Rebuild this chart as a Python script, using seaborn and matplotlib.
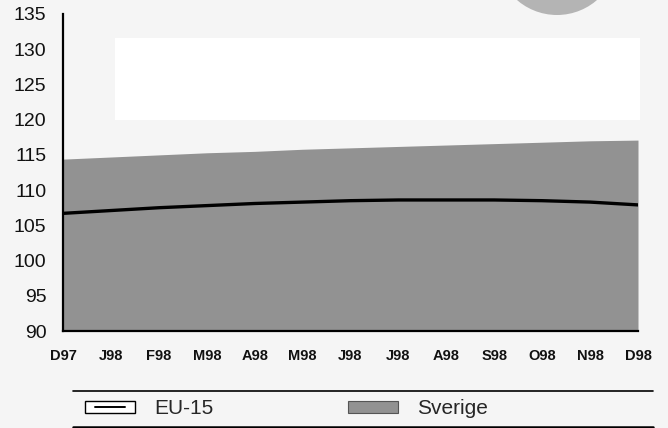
import matplotlib
matplotlib.use("Agg")
import matplotlib.pyplot as plt
import seaborn as sns
import pandas as pd
import numpy as np
from matplotlib.lines import Line2D
from matplotlib.patches import Rectangle, Ellipse
from matplotlib.legend_handler import HandlerBase

months = ["D97", "J98", "F98", "M98", "A98", "M98", "J98", "J98", "A98", "S98", "O98", "N98", "D98"]
eu15 = [106.7, 107.1, 107.5, 107.8, 108.1, 108.3, 108.5, 108.6, 108.6, 108.6, 108.5, 108.3, 107.9]
sverige = [114.4, 114.7, 115.0, 115.3, 115.5, 115.8, 116.0, 116.2, 116.4, 116.6, 116.8, 117.0, 117.1]
yticks = [90, 95, 100, 105, 110, 115, 120, 125, 130, 135]

sns.set_theme(style="white")
plt.rcParams['font.family'] = ['Liberation Sans', 'DejaVu Sans']

df = pd.DataFrame({"idx": np.arange(len(months)), "month": months,
                   "EU-15": eu15, "Sverige": sverige})

W, H = 668, 428
bg = "#f5f5f5"
fig = plt.figure(figsize=(W / 100, H / 100), dpi=100, facecolor=bg)

# scan artefacts: white panel and grey disc at the top
fig.add_artist(Rectangle((115 / W, 1 - 120 / H), (640 - 115) / W, (120 - 38) / H,
                         facecolor="white", edgecolor="none", transform=fig.transFigure, zorder=0))
fig.add_artist(Ellipse((557 / W, 1 + 46 / H), 122 / W, 122 / H, facecolor="#b4b4b4",
                       edgecolor="none", transform=fig.transFigure, zorder=0))

ax = fig.add_axes([63 / W, 1 - 331 / H, (638 - 63) / W, (331 - 14) / H])
ax.patch.set_alpha(0)

area_color = "#929292"
ax.fill_between(df["idx"], 90, df["Sverige"], color=area_color, linewidth=0, zorder=1)
sns.lineplot(data=df, x="idx", y="EU-15", ax=ax, color="black", linewidth=2.4, zorder=3, legend=False)

ax.set_xlim(0, len(months) - 1)
ax.set_ylim(90, 135)
ax.set_xticks(df["idx"])
ax.set_xticklabels(months, fontsize=10.5, fontweight="bold")
ax.set_yticks(yticks)
ax.set_yticklabels([str(v) for v in yticks], fontsize=14)
ax.set_xlabel("")
ax.set_ylabel("")
for s in ["top", "right"]:
    ax.spines[s].set_visible(False)
for s in ["left", "bottom"]:
    ax.spines[s].set_color("black")
    ax.spines[s].set_linewidth(1.6)
ax.tick_params(axis="y", direction="in", length=5, width=1.5, pad=12, colors="black")
ax.tick_params(axis="x", direction="in", length=4, width=1.2, pad=13, colors="black")
ax.tick_params(axis="both", labelcolor="#111111")


class BoxLineHandler(HandlerBase):
    def create_artists(self, legend, orig_handle, xdescent, ydescent, width, height, fontsize, trans):
        r = Rectangle((-xdescent, -ydescent), width, height, facecolor="white",
                      edgecolor="black", linewidth=1.0, transform=trans)
        l = Line2D([-xdescent + width * 0.2, -xdescent + width * 0.8],
                   [-ydescent + height / 2] * 2, color="black", linewidth=1.4, transform=trans)
        return [r, l]


eu_handle = Line2D([], [], color="black")
sv_handle = Rectangle((0, 0), 1, 1, facecolor=area_color, edgecolor="#555555", linewidth=0.8)
fig.legend([eu_handle, sv_handle], ["EU-15", "Sverige"],
           handler_map={Line2D: BoxLineHandler()},
           loc="center left", bbox_to_anchor=(85 / W, 1 - 409 / H), ncol=2,
           frameon=False, fontsize=15, handlelength=2.4, handleheight=0.55,
           handletextpad=0.9, columnspacing=6.5, borderpad=0, borderaxespad=0)

fig.add_artist(Line2D([73 / W, 653 / W], [1 - 391 / H] * 2, color="black", linewidth=1.2,
                      transform=fig.transFigure))
fig.add_artist(Line2D([73 / W, 653 / W], [1 - 426.5 / H] * 2, color="black", linewidth=1.8,
                      transform=fig.transFigure))

fig.savefig("out.png", dpi=100, facecolor=bg)
